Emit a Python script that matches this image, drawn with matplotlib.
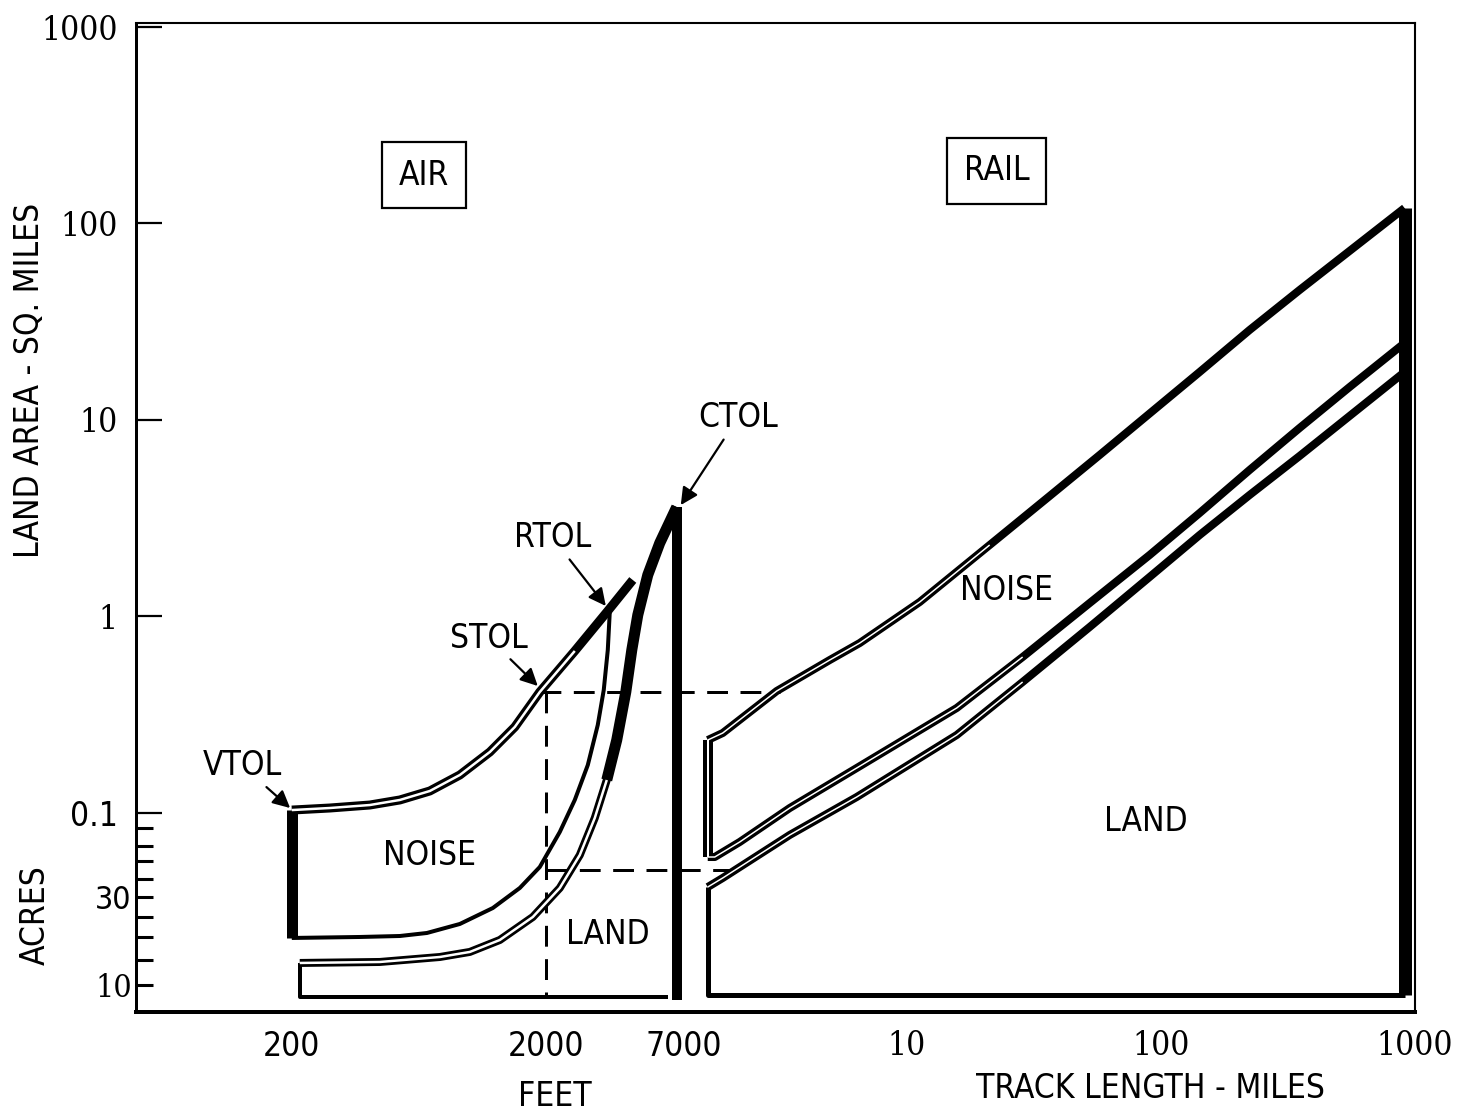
import matplotlib.pyplot as plt

plt.rcParams['lines.scale_dashes'] = False
PX = 0.72  # one pixel in points at dpi 100
FT_PER_MILE = 5280

# AIR: runway length (feet) vs land area (sq. miles)
stol_ft = [200, 282, 406, 533, 699, 918, 1205, 1511, 1895, 2603, 3511, 4404]
stol_sqmi = [0.1035, 0.1060, 0.1098, 0.1165, 0.1294, 0.1561, 0.2044, 0.274, 0.4128, 0.6676, 1.067, 1.534]

noise_lo_ft = [200, 371, 533, 681, 918, 1238, 1581, 1895, 2272, 2603, 2929, 3206, 3385, 3511, 3575]
noise_lo_sqmi = [0.02312, 0.02339, 0.02366, 0.02451, 0.02724, 0.03284, 0.04153, 0.0531, 0.08003, 0.1165,
                 0.1754, 0.2804, 0.4227, 0.6752, 1.054]

land_ft = [215, 444, 766, 1005, 1319, 1779, 2272, 2724, 3120, 3479, 3808, 4134, 4365, 4609, 5045, 5625, 6561]
land_sqmi = [0.01725, 0.01745, 0.0185, 0.01963, 0.02258, 0.02956, 0.04153, 0.0611, 0.0943, 0.1472,
             0.2351, 0.4128, 0.6752, 1.018, 1.626, 2.366, 3.607]

air_floor = 0.01158     # bottom of the air "land" box
air_floor_end_ft = 6046

# RAIL: track length (miles) vs land area (sq. miles)
rail_noise_mi = [1.646, 1.886, 3.077, 4.976, 6.531, 11.25, 21.22, 36.56, 57.52, 142.4, 224.0, 352.5, 913.1]
rail_noise_sqmi = [0.2351, 0.2553, 0.4177, 0.6006, 0.7328, 1.185, 2.311, 4.105, 6.636, 17.55, 28.71, 45.87, 119.9]

rail_mid_mi = [1.754, 2.2, 3.462, 6.355, 15.74, 28.61, 52.54, 90.5, 142.4, 224.0, 352.5, 554.9, 913.1]
rail_mid_sqmi = [0.0597, 0.0712, 0.1060, 0.1694, 0.3423, 0.622, 1.171, 2.056, 3.363, 5.567, 9.106, 14.72, 24.65]

rail_land_mi = [1.646, 1.886, 3.462, 6.355, 15.74, 28.61, 52.54, 90.5, 142.4, 224.0, 352.5, 913.1]
rail_land_sqmi = [0.0420, 0.0467, 0.0773, 0.1206, 0.2494, 0.4642, 0.8842, 1.589, 2.598, 4.152, 6.559, 17.55]

rail_floor = 0.01186

# dashed guide lines
guide_hi = 0.4128
guide_hi_end_ft = 16695
guide_lo = 0.0513
guide_lo_end_ft = 10610
guide_x_ft = 2000

# axis ticks
x_ticks = [200, 2000, 7000, 10 * FT_PER_MILE, 100 * FT_PER_MILE, 1000 * FT_PER_MILE]
x_labels = ['200', '2000', '7000', '10', '100', '1000']
y_ticks = [0.1, 1, 10, 100, 1000]
y_labels = ['0.1', '1', '10', '100', '1000']
acre_ticks = [0.0839, 0.0679, 0.0570, 0.0461, 0.0374, 0.0296, 0.0234, 0.0179, 0.0133]
acre_labels = ['', '', '', '', '30', '', '', '', '10']

SANS = dict(family='DejaVu Sans', stretch='condensed')
SERIF = dict(family='DejaVu Serif', stretch='condensed')

fig = plt.figure(figsize=(14.59, 11.2), dpi=100)
ax = fig.add_axes([136 / 1459, 108 / 1120, 1279 / 1459, 989 / 1120])
ax.set_xscale('log')
ax.set_yscale('log')
ax.set_xlim(48.7, 5.3e6)
ax.set_ylim(0.00971, 1048)


def band(x, y, w, core=0, upto=None, z=3):
    ax.plot(x, y, color='black', lw=w * PX, solid_capstyle='butt', solid_joinstyle='round', zorder=z)
    if core:
        n = len(x) if upto is None else upto
        ax.plot(x[:n], y[:n], color='white', lw=core * PX, solid_capstyle='butt',
                solid_joinstyle='round', zorder=z + 0.1)


# dashed guides
dash = dict(color='black', lw=3 * PX, dashes=(15, 9), zorder=2)
ax.plot([stol_ft[8], guide_hi_end_ft], [guide_hi, guide_hi], **dash)
ax.plot([guide_x_ft, guide_x_ft], [guide_hi, air_floor], **dash)
ax.plot([guide_x_ft, guide_lo_end_ft], [guide_lo, guide_lo], **dash)

# AIR
band([stol_ft[0], stol_ft[0]], [stol_sqmi[0], noise_lo_sqmi[0]], 11)
band(stol_ft, stol_sqmi, 9, core=2.5, upto=10)
band(noise_lo_ft, noise_lo_sqmi, 4)
band(land_ft, land_sqmi, 8, core=2.5, upto=10)
band(land_ft[9:], land_sqmi[9:], 11)
band([land_ft[0], land_ft[0], air_floor_end_ft], [land_sqmi[0], air_floor, air_floor], 4)
band([land_ft[-1], land_ft[-1]], [land_sqmi[-1], 0.0112], 10)

# RAIL
rn_ft = [m * FT_PER_MILE for m in rail_noise_mi]
rm_ft = [m * FT_PER_MILE for m in rail_mid_mi]
rl_ft = [m * FT_PER_MILE for m in rail_land_mi]
band([rn_ft[0], rn_ft[0]], [rail_mid_sqmi[0], rail_noise_sqmi[0]], 10, core=2)
band(rn_ft, rail_noise_sqmi, 8, core=1.5, upto=7)
band([rn_ft[0]] + rm_ft, [rail_mid_sqmi[0]] + rail_mid_sqmi, 8, core=1.5, upto=7)
band(rl_ft, rail_land_sqmi, 8, core=1.5, upto=6)
band([rl_ft[0], rl_ft[0], rl_ft[-1]], [rail_land_sqmi[0], rail_floor, rail_floor], 5)
ax.plot([rl_ft[-1], rl_ft[-1]], [rail_noise_sqmi[-1], rail_floor], color='black', lw=13 * PX,
        solid_capstyle='butt', zorder=4)

# region labels
txt = dict(fontsize=24, ha='center', va='center', **SANS)
ax.text(699, 0.0611, 'NOISE', **txt)
ax.text(3512, 0.02394, 'LAND', **txt)
ax.text(24.8 * FT_PER_MILE, 1.364, 'NOISE', **txt)
ax.text(87.3 * FT_PER_MILE, 0.09, 'LAND', **txt)
box = dict(boxstyle='square,pad=0.5', fc='white', ec='black', lw=1.6)
ax.text(662, 176.5, 'AIR', bbox=box, **txt)
ax.text(22.6 * FT_PER_MILE, 185, 'RAIL', bbox=box, **txt)

arrow = dict(arrowstyle='-|>', color='black', lw=1.6, mutation_scale=26, shrinkA=2, shrinkB=0)
ax.annotate('VTOL', xy=(197, 0.106), xytext=(128, 0.1735), arrowprops=arrow, **txt)
ax.annotate('STOL', xy=(1861, 0.4429), xytext=(1193, 0.777), arrowprops=arrow, **txt)
ax.annotate('RTOL', xy=(3449, 1.131), xytext=(2133, 2.509), arrowprops=arrow, **txt)
ax.annotate('CTOL', xy=(6806, 3.69), xytext=(11410, 10.24), arrowprops=arrow, **txt)

# axes and ticks
for side in ['top', 'right']:
    ax.spines[side].set_linewidth(1.5)
ax.spines['left'].set_linewidth(3 * PX)
ax.spines['bottom'].set_linewidth(4 * PX)

ax.set_xticks(x_ticks, x_labels)
ax.set_xticks([10 * FT_PER_MILE, 100 * FT_PER_MILE], ['', ''], minor=True)
ax.tick_params(axis='x', which='major', length=0, pad=13, labelsize=24)
ax.tick_params(axis='x', which='minor', direction='in', length=10, width=1.5)
for lab in ax.get_xticklabels():
    f = SERIF if lab.get_text() in ('10', '100', '1000') else SANS
    lab.set_fontfamily(f['family'])
    lab.set_fontstretch(f['stretch'])

ax.set_yticks(y_ticks, y_labels)
ax.set_yticks(acre_ticks, acre_labels, minor=True)
ax.tick_params(axis='y', which='major', direction='in', length=19, width=1.6, pad=13, labelsize=24)
ax.tick_params(axis='y', which='minor', direction='in', length=12, width=2.2, pad=3, labelsize=23)
for lab in ax.get_yticklabels():
    f = SANS if lab.get_text() == '0.1' else SERIF
    lab.set_fontfamily(f['family'])
    lab.set_fontstretch(f['stretch'])
for lab in ax.get_yticklabels(minor=True):
    f = SERIF if lab.get_text() == '10' else SANS
    lab.set_fontfamily(f['family'])
    lab.set_fontstretch(f['stretch'])

fig.text(30 / 1459, 1 - 380 / 1120, 'LAND AREA - SQ. MILES', rotation=90, **txt)
fig.text(35 / 1459, 1 - 915 / 1120, 'ACRES', rotation=90, **txt)
fig.text(555 / 1459, 1 - 1097 / 1120, 'FEET', **txt)
fig.text(1150 / 1459, 1 - 1089 / 1120, 'TRACK LENGTH - MILES', **txt)

fig.savefig('out.png', dpi=100)
